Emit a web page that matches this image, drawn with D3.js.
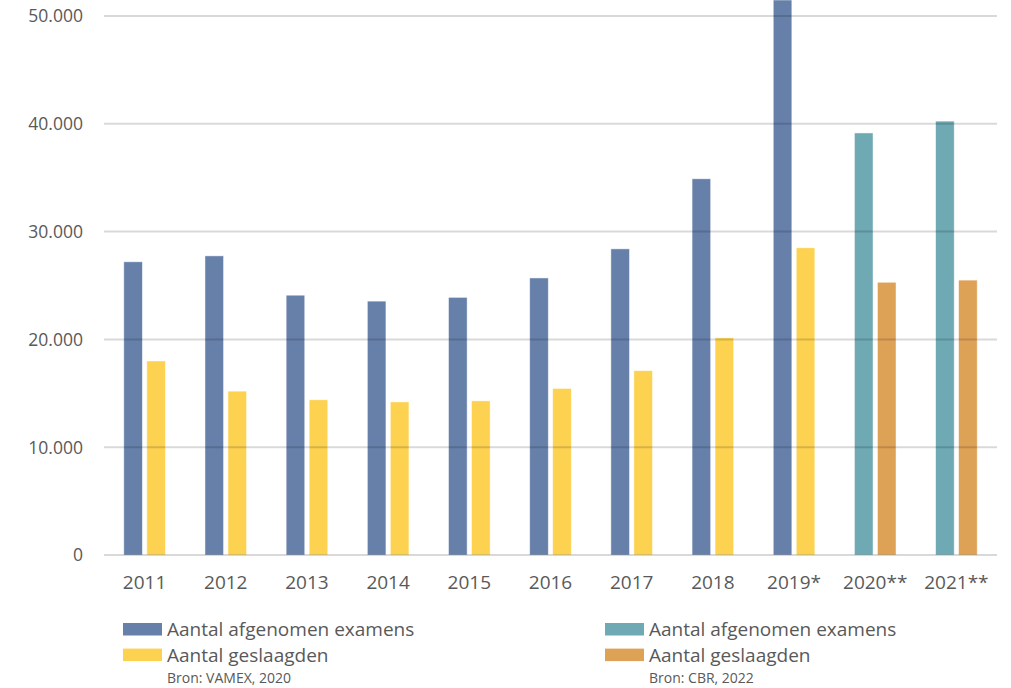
<!DOCTYPE html>
<html><head><meta charset="utf-8">
<script src="https://cdn.jsdelivr.net/npm/d3@7"></script>
<style>body{margin:0;background:#fff}svg{display:block;font-family:"Open Sans","Noto Sans",sans-serif}</style>
</head><body>
<svg id="c" width="1011" height="688"></svg>
<script>
const categories = ["2011","2012","2013","2014","2015","2016","2017","2018","2019*","2020**","2021**"];
const examens = [27200,27750,24100,23550,23900,25700,28400,34900,54000,39150,40250];
const geslaagden = [18000,15200,14400,14200,14300,15450,17100,20150,28500,25300,25500];
// source per category: 0 = VAMEX, 1 = CBR
const source = [0,0,0,0,0,0,0,0,0,1,1];
const yTicks = [0,10000,20000,30000,40000,50000];
const legendLabels = ["Aantal afgenomen examens","Aantal geslaagden"];
const sourceLabels = ["Bron: VAMEX, 2020","Bron: CBR, 2022"];

const colors = [["#6680aa","#fcd250"],["#6ea9b4","#dea256"]];

const svg = d3.select("#c");
const left = 104, right = 997, y0 = 555, y50 = 16;
const x = d3.scaleBand().domain(categories).range([left,right]).paddingInner(0).paddingOuter(0);
const y = d3.scaleLinear().domain([0,50000]).range([y0,y50]);
const barW = 18.6, gap = 4.4;

const plot = svg.append("g");
categories.forEach((c,i)=>{
  const cx = x(c) + x.bandwidth()/2;
  const s = source[i];
  plot.append("rect").attr("x",cx-gap/2-barW).attr("width",barW)
    .attr("y",Math.max(0,y(examens[i]))).attr("height",y0-Math.max(0,y(examens[i])))
    .attr("fill",colors[s][0]).attr("stroke","rgba(255,255,255,0.6)").attr("stroke-width",0.8);
  plot.append("rect").attr("x",cx+gap/2).attr("width",barW)
    .attr("y",y(geslaagden[i])).attr("height",y0-y(geslaagden[i]))
    .attr("fill",colors[s][1]).attr("stroke","rgba(255,255,255,0.6)").attr("stroke-width",0.8);
});

// gridlines on top (bars appear translucent over them)
const grid = svg.append("g");
yTicks.forEach(t=>{
  grid.append("line").attr("x1",left).attr("x2",right).attr("y1",y(t)).attr("y2",y(t))
    .attr("stroke", "rgba(0,0,0,0.15)").attr("stroke-width",2);
});

const fmt = d => d3.format(",")(d).replace(/,/g,".");
svg.append("g").selectAll("text").data(yTicks).join("text")
  .attr("x",83).attr("y",d=>y(d)).attr("dy","0.36em").attr("text-anchor","end")
  .attr("font-size",17.5).attr("fill","#595959").text(fmt);

svg.append("g").selectAll("text").data(categories).join("text")
  .attr("x",d=>x(d)+x.bandwidth()/2).attr("y",589).attr("text-anchor","middle")
  .attr("font-size",19).attr("fill","#595959").text(d=>d);

// legends
const legX = [123,605];
[0,1].forEach(s=>{
  const g = svg.append("g");
  legendLabels.forEach((lab,j)=>{
    const yy = 623 + j*25.6;
    g.append("rect").attr("x",legX[s]).attr("y",yy).attr("width",39).attr("height",12.5).attr("fill",colors[s][j]);
    g.append("text").attr("x",legX[s]+44).attr("y",yy+6.5).attr("dy","0.36em")
      .attr("font-size",19).attr("fill","#595959").text(lab);
  });
  g.append("text").attr("x",legX[s]+44).attr("y",683).attr("font-size",14).attr("fill","#595959").text(sourceLabels[s]);
});
</script>
</body></html>
